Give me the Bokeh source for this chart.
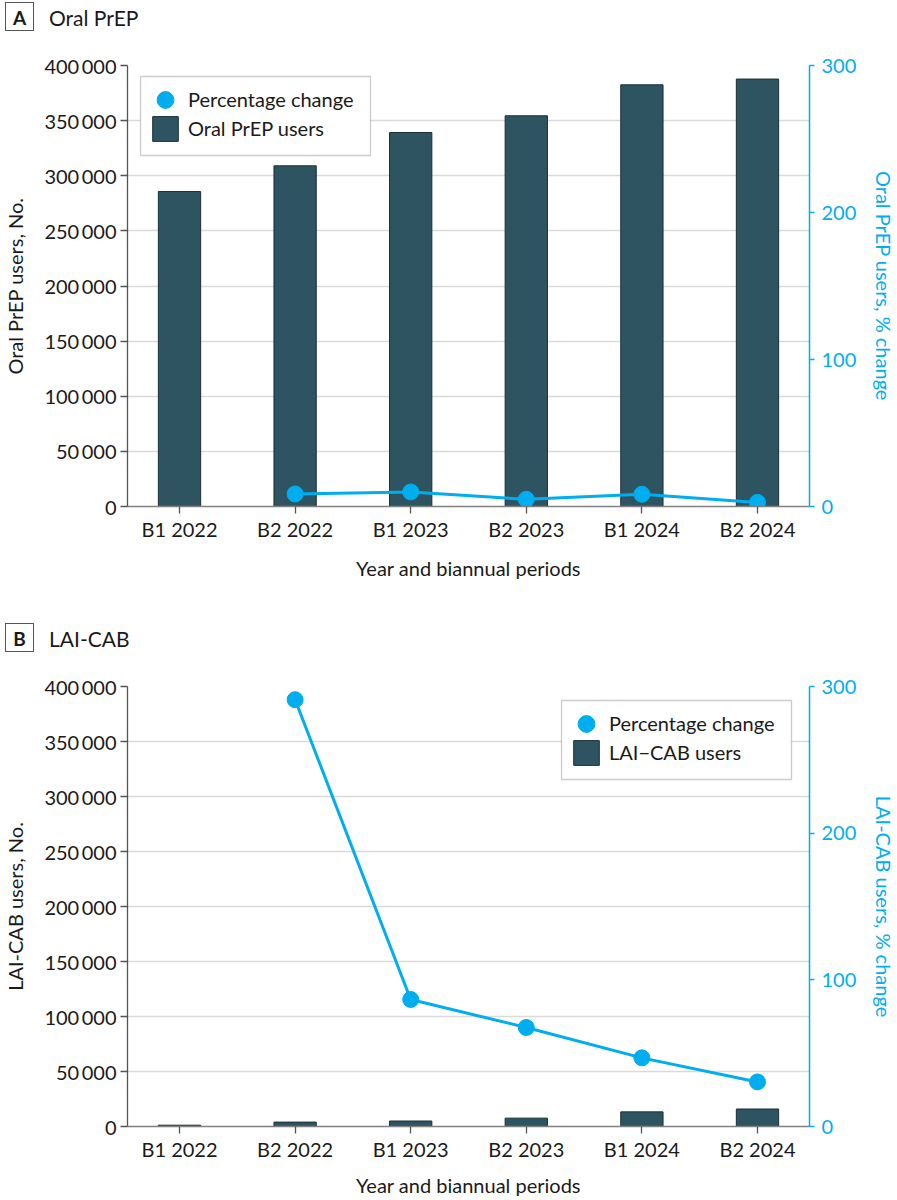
import math
from bokeh.plotting import figure
from bokeh.models import (Range1d, LinearAxis, FixedTicker, Legend, LegendItem,
                          BoxAnnotation, Div)
from bokeh.layouts import column
from bokeh.embed import file_html
from bokeh.resources import INLINE

# ---- data -------------------------------------------------------------
periods = ["B1 2022", "B2 2022", "B1 2023", "B2 2023", "B1 2024", "B2 2024"]
oral_users = [285700, 309000, 339200, 354400, 382500, 387700]
oral_pct = [float("nan"), 8.5, 9.9, 4.9, 8.3, 2.8]
lai_users = [1200, 4000, 5000, 7600, 13300, 15900]
lai_pct = [float("nan"), 291.0, 86.6, 67.5, 46.8, 30.4]
left_ticks = [0, 50000, 100000, 150000, 200000, 250000, 300000, 350000, 400000]
left_tick_labels = ["0", "50\u2009000", "100\u2009000", "150\u2009000", "200\u2009000",
                    "250\u2009000", "300\u2009000", "350\u2009000", "400\u2009000"]
right_ticks = [0, 100, 200, 300]

FONT = "Lato"
BAR = "#2e5461"
BAR_LINE = "#1b2f36"
BLUE = "#00aeef"
TXT = "#1a1a1a"
FS = "20px"


def header(letter, name, height, box_left, box_top):
    html = (
        f'<div style="position:relative;width:880px;height:{height}px;font-family:Lato;color:{TXT};">'
        f'<div style="position:absolute;left:{box_left}px;top:{box_top}px;width:29px;height:29px;'
        f'border:1.3px solid #555555;font-weight:bold;font-size:19px;line-height:29px;'
        f'text-align:center;">{letter}</div>'
        f'<div style="position:absolute;left:{box_left + 44}px;top:{box_top}px;height:31px;'
        f'font-size:21px;line-height:31px;white-space:nowrap;">{name}</div>'
        f'</div>'
    )
    return Div(text=html, width=880, height=height, margin=(0, 0, 0, 0))


def make_panel(users, pct, bar_label, y_label, r_label,
               frame_h, top_border, bottom_border, legend_right, xlab_standoff):
    n = len(periods)
    xs = list(range(n))
    L = 120
    fw = 682
    fh = frame_h
    p = figure(frame_width=fw, frame_height=fh, x_range=Range1d(-0.45, n - 0.55),
               y_range=Range1d(0, 400000), output_backend="svg",
               toolbar_location=None, min_border_left=L, min_border_right=0,
               min_border_top=top_border, min_border_bottom=bottom_border)
    p.outline_line_color = None
    p.background_fill_color = "white"
    p.extra_y_ranges = {"pct": Range1d(0, 300)}

    p.xgrid.visible = False
    p.ygrid.ticker = FixedTicker(ticks=left_ticks)
    p.ygrid.grid_line_color = "#dadada"
    p.ygrid.grid_line_width = 1.6

    bars = p.vbar(x=xs, top=users, width=0.366, fill_color=BAR,
                  line_color=BAR_LINE, line_width=1)
    p.line(xs, pct, y_range_name="pct", line_color=BLUE, line_width=3)
    dots = p.ellipse(x=xs, y=pct, width=16, height=16, width_units="screen",
                     height_units="screen", y_range_name="pct",
                     fill_color=BLUE, line_color=BLUE)

    # left axis
    ya = p.yaxis[0]
    ya.ticker = FixedTicker(ticks=left_ticks)
    ya.major_label_overrides = {t: s for t, s in zip(left_ticks, left_tick_labels)}
    ya.axis_label = y_label
    ya.axis_label_standoff = 14
    ya.axis_line_color = "#555555"
    ya.axis_line_width = 1.3
    ya.major_tick_line_color = "#555555"
    ya.major_tick_line_width = 1.3
    ya.major_tick_in = 0
    ya.major_tick_out = 7
    ya.minor_tick_line_color = None
    ya.major_label_standoff = 4

    # bottom axis
    xa = p.xaxis[0]
    xa.ticker = FixedTicker(ticks=xs)
    xa.major_label_overrides = {i: s for i, s in enumerate(periods)}
    xa.axis_label = "Year and biannual periods"
    xa.axis_label_standoff = xlab_standoff
    xa.axis_line_color = "#808080"
    xa.axis_line_width = 1.5
    xa.major_tick_line_color = "#555555"
    xa.major_tick_line_width = 1.3
    xa.major_tick_in = 0
    xa.major_tick_out = 7
    xa.minor_tick_line_color = None
    xa.major_label_standoff = 3

    # right axis
    ra = LinearAxis(y_range_name="pct", ticker=FixedTicker(ticks=right_ticks),
                    axis_label=r_label)
    ra.axis_line_color = BLUE
    ra.axis_line_width = 1.5
    ra.major_tick_line_color = BLUE
    ra.major_tick_line_width = 1.5
    ra.major_tick_in = 0
    ra.major_tick_out = 5
    ra.minor_tick_line_color = None
    ra.major_label_standoff = 7
    ra.axis_label_standoff = 13
    ra.major_label_text_color = BLUE
    ra.axis_label_text_color = BLUE
    p.add_layout(ra, "right")

    for ax in (ya, xa, ra):
        ax.major_label_text_font = FONT
        ax.major_label_text_font_size = FS
        ax.axis_label_text_font = FONT
        ax.axis_label_text_font_size = FS
        ax.axis_label_text_font_style = "normal"
    for ax in (ya, xa):
        ax.major_label_text_color = TXT
        ax.axis_label_text_color = TXT

    # legend (two stacked legends inside one frame box)
    bw, bh = 230, 79
    if legend_right:
        bx, bt = fw - 18 - bw, 14
    else:
        bx, bt = 13, 11
    p.add_layout(BoxAnnotation(left=bx, right=bx + bw, top=fh - bt, bottom=fh - bt - bh,
                               left_units="screen", right_units="screen",
                               top_units="screen", bottom_units="screen",
                               fill_color="white", fill_alpha=1.0,
                               line_color="#555555", line_width=1.3, level="annotation"))
    common = dict(border_line_color=None, background_fill_alpha=0, padding=0, margin=0,
                  spacing=0, label_text_font=FONT, label_text_font_size=FS,
                  label_text_color=TXT, label_height=22)
    lg1 = Legend(items=[LegendItem(label="Percentage change", renderers=[dots])],
                 location=(bx + 12, fh - (bt + 35)), glyph_width=26, glyph_height=21,
                 label_standoff=10, **common)
    lg2 = Legend(items=[LegendItem(label=bar_label, renderers=[bars])],
                 location=(bx + 9, fh - (bt + 67.5)), glyph_width=32, glyph_height=31,
                 label_standoff=7, **common)
    p.add_layout(lg1)
    p.add_layout(lg2)
    return p


hA = header("A", "Oral PrEP", 48, 5, 2)
pA = make_panel(oral_users, oral_pct, "Oral PrEP users",
                "Oral PrEP users, No.", "Oral PrEP users, % change",
                441, 17, 114, False, 12)
hB = header("B", "LAI-CAB", 40, 5, 3)
pB = make_panel(lai_users, lai_pct, "LAI\u2212CAB users",
                "LAI-CAB users, No.", "LAI-CAB users, % change",
                440, 26, 66, True, 9)

layout = column(hA, pA, hB, pB)
open("out.html", "w").write(file_html(layout, INLINE))
